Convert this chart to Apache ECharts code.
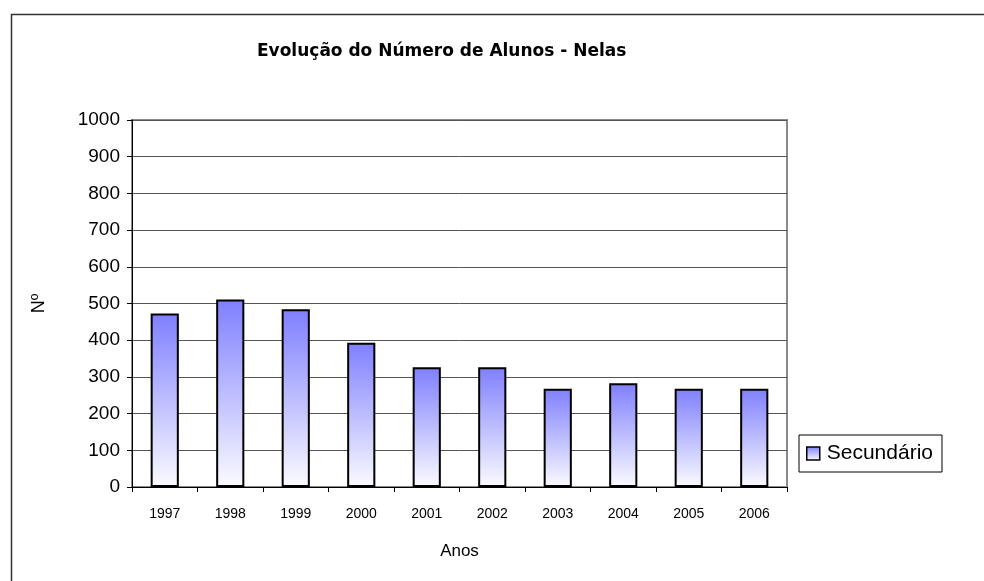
<!DOCTYPE html>
<html>
<head>
<meta charset="utf-8">
<script src="https://cdn.jsdelivr.net/npm/echarts@6/dist/echarts.min.js"></script>
<style>
  html, body { margin: 0; padding: 0; background: #fff; }
  #chart { width: 984px; height: 581px; }
</style>
</head>
<body>
<div id="chart"></div>
<script>
const years = ["1997", "1998", "1999", "2000", "2001", "2002", "2003", "2004", "2005", "2006"];
const secundario = [473, 511, 484, 393, 326, 326, 268, 283, 268, 268];

const chart = echarts.init(document.getElementById("chart"), null, { renderer: "canvas" });
const font = "Liberation Sans, Arial, sans-serif";

const barFill = new echarts.graphic.LinearGradient(0, 0, 0, 1, [
  { offset: 0, color: "#7f7fff" },
  { offset: 1, color: "#fbfbff" }
]);

chart.setOption({
  animation: false,
  backgroundColor: "#fff",
  textStyle: { fontFamily: font },
  graphic: [
    {
      type: "rect",
      left: 9, top: 12,
      shape: { width: 1000, height: 600 },
      style: { fill: "none", stroke: "#333", lineWidth: 1.5 },
      silent: true
    }
  ],
  title: {
    text: "Evolução do Número de Alunos - Nelas",
    left: 252, top: 38,
    textStyle: { fontFamily: "DejaVu Sans", fontSize: 17, fontWeight: "bold", color: "#000" }
  },
  legend: {
    data: [{ name: "Secundário", icon: "rect" }],
    left: 799, top: 435,
    padding: [8, 9, 8, 7],
    itemWidth: 13, itemHeight: 13,
    itemGap: 5,
    borderColor: "#000", borderWidth: 1,
    textStyle: { fontFamily: font, fontSize: 21, color: "#000", padding: [0, 0, 0, 2] },
    itemStyle: { borderColor: "#000", borderWidth: 1.5 }
  },
  grid: {
    left: 132, right: 197, top: 120, bottom: 94,
    show: true, borderColor: "#8a8a8a", borderWidth: 2
  },
  xAxis: {
    type: "category",
    data: years,
    name: "Anos",
    nameLocation: "middle",
    nameGap: 56,
    nameTextStyle: { fontFamily: font, fontSize: 17, color: "#000" },
    axisLine: { lineStyle: { color: "#000", width: 1 } },
    axisTick: { show: true, length: 5, lineStyle: { color: "#000" } },
    axisLabel: { fontFamily: font, fontSize: 14, color: "#000", margin: 20 },
    splitLine: { show: false }
  },
  yAxis: {
    type: "value",
    min: 0, max: 1000, interval: 100,
    name: "Nº",
    nameLocation: "middle",
    nameRotate: 90,
    nameGap: 84,
    nameTextStyle: { fontFamily: font, fontSize: 18, color: "#000" },
    axisLine: { show: true, lineStyle: { color: "#000", width: 1 } },
    axisTick: { show: true, length: 5, lineStyle: { color: "#000" } },
    axisLabel: { fontFamily: font, fontSize: 19, color: "#000", margin: 12, formatter: v => String(v) },
    splitLine: { show: true, lineStyle: { color: "#555", width: 1 } }
  },
  series: [
    {
      name: "Secundário",
      type: "bar",
      data: secundario,
      barWidth: "43%",
      itemStyle: { color: barFill, borderColor: "#000", borderWidth: 2 }
    }
  ]
});
</script>
</body>
</html>
